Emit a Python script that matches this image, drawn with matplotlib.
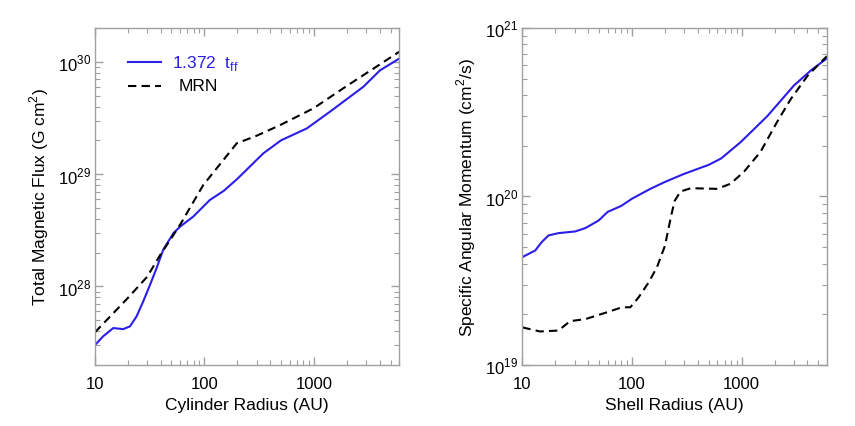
import numpy as np
import matplotlib
matplotlib.use("Agg")
import matplotlib.pyplot as plt
from matplotlib.ticker import LogLocator, FixedLocator, NullFormatter

plt.rcParams['font.family'] = ['Liberation Sans', 'DejaVu Sans']
plt.rcParams['mathtext.fontset'] = 'custom'
plt.rcParams['mathtext.rm'] = 'Liberation Sans'

# ---------- data --------------------------------------------------
# left panel: total magnetic flux vs cylinder radius
flux_r = [10, 11.9, 14.7, 18.1, 20.9, 24, 27.6, 31.8, 36.5, 42, 52, 60, 79, 112, 150, 200,
          260, 344, 500, 857, 1400, 2820, 4000, 6000]
flux_blue = [3.0e27, 3.6e27, 4.26e27, 4.17e27, 4.41e27, 5.41e27, 7.36e27, 1.03e28, 1.45e28,
             2.12e28, 2.98e28, 3.41e28, 4.19e28, 5.89e28, 7.1e28, 9.1e28, 1.17e29, 1.53e29,
             2.0e29, 2.55e29, 3.6e29, 6.0e29, 8.4e29, 1.07e30]
flux_mrn_r = [10, 20, 30, 40, 50, 60, 97.5, 150, 197, 300, 489, 986, 1990, 6000]
flux_mrn = [3.9e27, 7.9e27, 1.22e28, 1.95e28, 2.7e28, 3.55e28, 8.0e28, 1.35e29, 1.88e29,
            2.2e29, 2.73e29, 3.85e29, 6.1e29, 1.23e30]

# right panel: specific angular momentum vs shell radius
am_r = [10, 13.1, 15, 17.3, 21.3, 30.3, 37.5, 49.6, 60, 80, 100, 147, 200, 297, 500, 650,
        980, 1720, 3000, 4290, 6000]
am_blue = [4.37e19, 4.78e19, 5.36e19, 5.87e19, 6.06e19, 6.2e19, 6.49e19, 7.2e19, 8.1e19,
           8.8e19, 9.7e19, 1.11e20, 1.22e20, 1.36e20, 1.54e20, 1.68e20, 2.1e20, 3.0e20,
           4.55e20, 5.6e20, 6.6e20]
am_mrn_r = [10, 14.5, 21.3, 27.3, 37.5, 49.6, 65.6, 81, 96.6, 115, 142, 169, 200, 228, 245,
            277, 344, 600, 793, 1050, 1490, 2110, 2825, 4000, 6000]
am_mrn = [1.67e19, 1.58e19, 1.6e19, 1.82e19, 1.87e19, 1.98e19, 2.1e19, 2.2e19, 2.2e19,
          2.52e19, 3.09e19, 3.8e19, 5.1e19, 7.7e19, 9.4e19, 1.07e20, 1.12e20, 1.11e20,
          1.19e20, 1.4e20, 1.84e20, 2.77e20, 3.8e20, 5.2e20, 6.8e20]

BLUE = '#2a1ee8'
GREY = '#a0a0a0'
DASH = (0, (4, 2.5))


def style_axes(ax):
    ax.set_xscale('log')
    ax.set_yscale('log')
    ax.set_xlim(10, 6000)
    for s in ax.spines.values():
        s.set_color(GREY)
        s.set_linewidth(1.0)
    ax.tick_params(which='both', direction='in', top=True, right=True, color=GREY,
                   labelsize=12)
    ax.tick_params(axis='x', pad=8)
    ax.tick_params(axis='y', pad=3)
    ax.tick_params(which='major', length=6, width=1.0)
    ax.tick_params(which='minor', length=3.5, width=0.8)
    ax.xaxis.set_major_locator(FixedLocator([10, 100, 1000]))
    ax.set_xticklabels(['10', '100', '1000'])
    ax.xaxis.set_minor_locator(LogLocator(base=10, subs=np.arange(2, 10)))
    ax.xaxis.set_minor_formatter(NullFormatter())
    ax.yaxis.set_minor_locator(LogLocator(base=10, subs=np.arange(2, 10)))
    ax.yaxis.set_minor_formatter(NullFormatter())


fig = plt.figure(figsize=(8.55, 4.27), dpi=100)
ax1 = fig.add_axes([0.111, 0.143, 0.356, 0.789])
ax2 = fig.add_axes([0.611, 0.143, 0.356, 0.789])

# ---------- left panel ---------------------------------------------
style_axes(ax1)
ax1.set_ylim(2.0e27, 2.0e30)
ax1.yaxis.set_major_locator(FixedLocator([1e28, 1e29, 1e30]))
ax1.set_yticklabels([r'10$^{28}$', r'10$^{29}$', r'10$^{30}$'])
ax1.plot(flux_r, flux_blue, color=BLUE, lw=1.5)
ax1.plot(flux_mrn_r, flux_mrn, color='black', lw=1.5, ls=DASH)

# legend, IDL style
ax1.plot([0.109, 0.217], [0.899, 0.899], transform=ax1.transAxes, color=BLUE, lw=1.5)
ax1.plot([0.109, 0.217], [0.828, 0.828], transform=ax1.transAxes, color='black', lw=1.5, ls=DASH)
ax1.text(0.253, 0.899, r'1.372  t$_{\rm ff}$', transform=ax1.transAxes, color=BLUE,
         fontsize=12.5, va='center', ha='left')
ax1.text(0.276, 0.828, 'MRN', transform=ax1.transAxes, color='black',
         fontsize=12.5, va='center', ha='left')

ax1.set_xlabel('Cylinder Radius (AU)', fontsize=12.5, labelpad=4)
ax1.set_ylabel(r'Total Magnetic Flux (G cm$^2$)', fontsize=12.5, labelpad=5)

# ---------- right panel --------------------------------------------
style_axes(ax2)
ax2.set_ylim(1e19, 1e21)
ax2.yaxis.set_major_locator(FixedLocator([1e19, 1e20, 1e21]))
ax2.set_yticklabels([r'10$^{19}$', r'10$^{20}$', r'10$^{21}$'])
ax2.plot(am_r, am_blue, color=BLUE, lw=1.5)
ax2.plot(am_mrn_r, am_mrn, color='black', lw=1.5, ls=DASH)
ax2.set_xlabel('Shell Radius (AU)', fontsize=12.5, labelpad=4)
ax2.set_ylabel(r'Specific Angular Momentum (cm$^2$/s)', fontsize=12.5, labelpad=5)

fig.savefig('out.png', dpi=100)
